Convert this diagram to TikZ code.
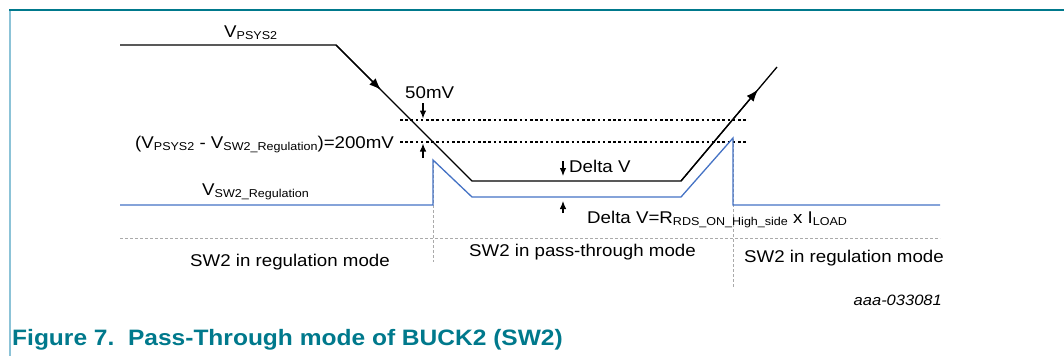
\documentclass[tikz,border=0pt]{standalone}
\usepackage{fontspec}
\setmainfont{Liberation Sans}[FakeStretch=1.1]
\usetikzlibrary{arrows.meta}
\definecolor{nxpteal}{RGB}{0,121,140}
\definecolor{framel}{RGB}{140,195,215}
\definecolor{sigblue}{RGB}{68,114,196}
\definecolor{guide}{RGB}{170,170,170}
\newcommand\lowtxt[1]{\raisebox{-0.15em}{\fontsize{11.4}{11.4}\selectfont #1}}
\begin{document}
\begin{tikzpicture}[x=1pt,y=-1pt,
  lbl/.style={inner sep=0pt,font=\fontsize{17}{19}\selectfont},
  sig/.style={line width=1.3pt,line join=miter},
  refline/.style={line width=1.1pt,dash pattern=on 2.6pt off 2.6pt},
  guideline/.style={guide,line width=0.9pt,dash pattern=on 3pt off 2pt},
  bigarrow/.style={line width=1.3pt,-{Latex[length=12pt,width=9pt]}},
  smallarrow/.style={line width=1.1pt,-{Latex[length=8pt,width=6.5pt]}}]
\useasboundingbox (0,0) rectangle (1064,356);
% frame
\draw[framel,line width=1.4pt] (10,10) -- (10,356);
\draw[nxpteal,line width=1.8pt] (9.3,10) -- (1064,10);
% guide lines
\draw[guideline] (120,238.5) -- (940,238.5);
\draw[guideline] (433,160) -- (433,262);
\draw[guideline] (733,139) -- (733,288);
% reference dotted lines
\draw[refline] (400,120) -- (748,120);
\draw[refline] (400,142) -- (748,142);
% VPSYS2
\coordinate (p1) at (120,45);
\coordinate (p2) at (336,45);
\coordinate (p3) at (472,181);
\coordinate (p4) at (681,181);
\coordinate (p5) at (777,67);
\coordinate (a1) at (381,90);
\coordinate (a2) at (758,89.5);
\draw[sig] (p1) -- (p2) -- (p3) -- (p4) -- (p5);
\draw[bigarrow] (p2) -- (a1);
\draw[bigarrow] (p4) -- (a2);
% VSW2 regulation
\draw[sig,sigblue] (120,205) -- (433,205) -- (433,160) -- (472,197) -- (681,197) -- (733,138) -- (733,205) -- (940,205);
% small arrows
\coordinate (s1a) at (423,103); \coordinate (s1b) at (423,118.5);
\coordinate (s2a) at (423,158); \coordinate (s2b) at (423,143.5);
\coordinate (s3a) at (563,161); \coordinate (s3b) at (563,176);
\coordinate (s4a) at (563,213); \coordinate (s4b) at (563,201);
\draw[smallarrow] (s1a) -- (s1b);
\draw[smallarrow] (s2a) -- (s2b);
\draw[smallarrow] (s3a) -- (s3b);
\draw[smallarrow] (s4a) -- (s4b);
% labels
\node[lbl,anchor=base west] (vpsys) at (224,37) {V\lowtxt{PSYS2}};
\node[lbl,anchor=base west] (mv50) at (405,98) {50mV};
\node[lbl,anchor=base west] (mv200) at (135,148) {(V\lowtxt{PSYS2} - V\lowtxt{SW2\_Regulation})=200mV};
\node[lbl,anchor=base west] (vsw) at (202,195) {V\lowtxt{SW2\_Regulation}};
\node[lbl,anchor=base west] (dv1) at (569,172) {Delta V};
\node[lbl,anchor=base west] (dv2) at (587,223) {Delta V=R\lowtxt{RDS\_ON\_High\_side} x I\lowtxt{LOAD}};
\node[lbl,anchor=base west] (m1) at (190,266) {SW2 in regulation mode};
\node[lbl,anchor=base west] (m2) at (469,256) {SW2 in pass-through mode};
\node[lbl,anchor=base west] (m3) at (744,262) {SW2 in regulation mode};
\node[inner sep=0pt,anchor=base east,font=\fontsize{15}{17}\selectfont\itshape] (id) at (942,305) {aaa-033081};
\node[inner sep=0pt,anchor=base west,text=nxpteal,font=\fontsize{22.3}{24}\selectfont\bfseries] (cap) at (12,345) {Figure 7.\ \ Pass-Through mode of BUCK2 (SW2)};
\end{tikzpicture}
\end{document}
